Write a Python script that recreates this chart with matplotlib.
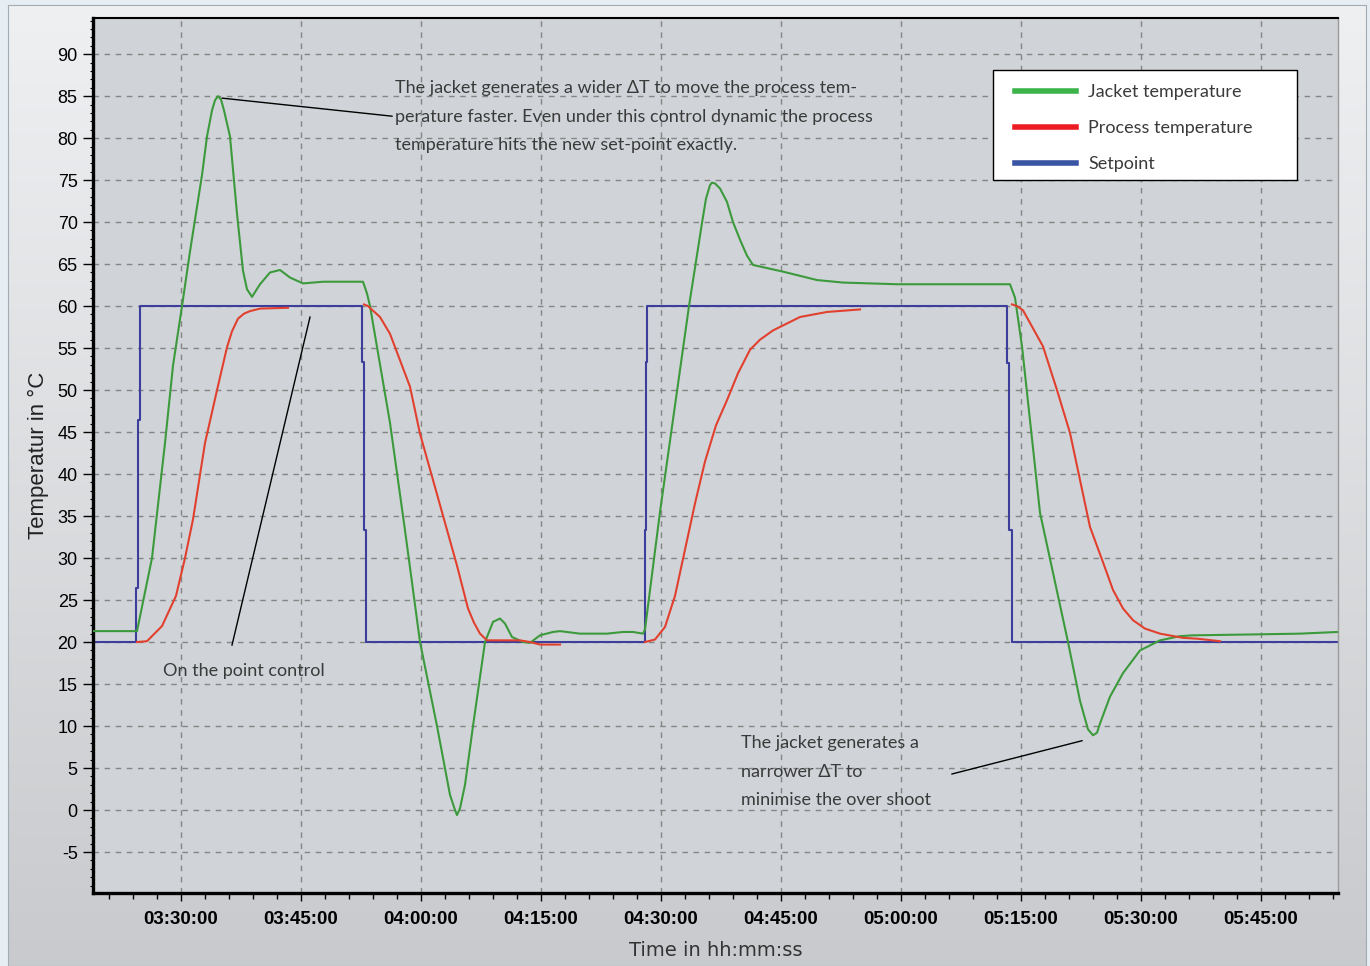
import numpy as np
import matplotlib
matplotlib.use('Agg')
import matplotlib.pyplot as plt
from matplotlib.ticker import MultipleLocator, FuncFormatter
from matplotlib.lines import Line2D
from matplotlib.patches import Rectangle
from matplotlib.colors import LinearSegmentedColormap

plt.rcParams['axes.unicode_minus'] = False

# times are minutes after midnight
jacket_time = [199.0, 204.5, 206.375, 208.0, 209.0, 210.125, 211.125, 212.625, 213.25, 213.875,
               214.25, 214.625, 215.0, 215.375, 216.125, 217.0, 217.75, 218.25, 218.875, 219.875,
               221.125, 222.375, 223.625, 225.25, 227.75, 232.75, 233.25, 233.625, 236.125, 238.0,
               239.875, 242.0, 243.625, 244.25, 244.5, 244.875, 245.5, 246.5, 248.0, 249.0,
               249.875, 250.5, 251.375, 252.75, 253.625, 254.875, 256.5, 257.375, 259.875, 263.25,
               265.25, 266.5, 267.75, 268.0, 269.875, 273.5, 275.125, 275.625, 276.125, 276.375,
               276.75, 277.375, 278.25, 279.0, 279.875, 280.75, 281.5, 285.25, 289.5, 292.75,
               299.5, 313.625, 314.25, 315.125, 317.375, 320.875, 322.375, 323.375, 324.0, 324.5,
               324.875, 326.125, 327.75, 329.875, 332.375, 334.875, 336.5, 343.625, 349.875, 354.625]
jacket_temp = [21.3, 21.3, 30.0, 43.7, 52.9, 60.0, 66.5, 75.6, 80.2, 83.3,
               84.5, 85.0, 84.6, 83.3, 80.2, 71.0, 64.2, 62.0, 61.1, 62.6,
               64.0, 64.3, 63.4, 62.7, 62.9, 62.9, 61.5, 60.0, 46.1, 33.3,
               20.0, 10.0, 1.8, 0.0, -0.6, 0.2, 3.0, 10.0, 20.0, 22.4,
               22.8, 22.2, 20.6, 20.0, 19.9, 20.8, 21.2, 21.3, 21.0, 21.0,
               21.2, 21.2, 21.0, 21.5, 35.5, 60.0, 69.9, 72.8, 74.4, 74.7,
               74.6, 74.0, 72.4, 70.0, 67.9, 66.0, 64.9, 64.1, 63.1, 62.8,
               62.6, 62.6, 61.0, 55.2, 35.4, 20.0, 13.0, 9.6, 8.9, 9.2,
               10.3, 13.5, 16.3, 19.0, 20.2, 20.7, 20.8, 20.9, 21.0, 21.2]

# process temperature is logged in pieces, nan marks the gaps
process_time = [204.5, 205.75, 207.625, 209.375, 210.5, 211.5, 213.0, 214.625, 215.75, 216.375,
                217.125, 217.875, 218.625, 219.875, 223.375, np.nan,
                232.875, 233.375, 234.875, 236.125, 238.625, 239.875, 242.0, 244.5, 245.875, 246.625,
                247.375, 248.25, 252.375, 253.625, 254.875, 257.375, np.nan,
                268.0, 269.25, 270.5, 271.75, 273.0, 274.25, 275.5, 276.875, 278.25, 279.625,
                281.125, 282.375, 284.0, 287.375, 290.75, 294.875, np.nan,
                313.875, 314.5, 315.25, 317.75, 319.5, 321.125, 322.375, 323.625, 325.25, 326.5,
                327.75, 329.0, 330.5, 332.375, 335.25, 337.0, 339.875]
process_temp = [20.0, 20.1, 21.9, 25.5, 30.0, 34.6, 43.7, 50.5, 55.1, 57.0,
                58.5, 59.1, 59.4, 59.7, 59.8, np.nan,
                60.2, 60.0, 58.7, 56.7, 50.4, 44.8, 37.6, 29.1, 24.0, 22.3,
                21.0, 20.2, 20.2, 20.0, 19.7, 19.7, np.nan,
                20.0, 20.3, 21.8, 25.5, 31.0, 36.5, 41.5, 45.8, 48.8, 52.0,
                54.8, 56.0, 57.1, 58.7, 59.3, 59.6, np.nan,
                60.2, 60.0, 59.5, 55.2, 50.0, 44.9, 39.3, 33.7, 29.5, 26.2,
                24.0, 22.6, 21.6, 21.0, 20.5, 20.4, 20.1]

setpoint_time = [199.0, 204.375, 204.375, 204.625, 204.625, 204.875, 204.875,
                 232.625, 232.625, 232.875, 232.875, 233.125, 233.125,
                 268.0, 268.0, 268.125, 268.125, 268.25, 268.25,
                 313.25, 313.25, 313.5, 313.5, 313.875, 313.875, 354.625]
setpoint_temp = [20, 20, 26.4, 26.4, 46.4, 46.4, 60,
                 60, 53.3, 53.3, 33.3, 33.3, 20,
                 20, 33.3, 33.3, 53.3, 53.3, 60,
                 60, 53.2, 53.2, 33.3, 33.3, 20, 20]

labels = ['Jacket temperature', 'Process temperature', 'Setpoint']

note_font = ['Lato', 'DejaVu Sans']
note_col = '#3a3a3a'

fig = plt.figure(figsize=(13.7, 9.66), dpi=100)
fig.patch.set_facecolor('#e6edf3')

# grey gradient panel behind the chart
bg = fig.add_axes([8/1370, 0, 1358/1370, 1 - 5/966])
grad = np.linspace(0, 1, 256)[:, None]
bg.imshow(grad, aspect='auto', extent=[0, 1, 0, 1],
          cmap=LinearSegmentedColormap.from_list('bg', ['#eef0f2', '#c8cacd']))
bg.set_xticks([])
bg.set_yticks([])
for s in bg.spines.values():
    s.set_color('#a3abb3')

ax = fig.add_axes([93/1370, 1 - 893/966, 1245/1370, 875/966])
ax.set_facecolor('#d0d4d8')

ax.plot(jacket_time, jacket_temp, color='#3c9a3c', lw=1.5, zorder=3)
ax.plot(process_time, process_temp, color='#e2402f', lw=1.5, zorder=4)
ax.plot(setpoint_time, setpoint_temp, color='#3d3d9c', lw=1.5, zorder=2)

ax.set_xlim(199.0, 354.625)
ax.set_ylim(-9.88, 94.3)

ax.xaxis.set_major_locator(MultipleLocator(15))
ax.xaxis.set_minor_locator(MultipleLocator(3))
ax.yaxis.set_minor_locator(MultipleLocator(1))
ax.set_yticks(np.arange(-5, 91, 5))

def hms(m, pos):
    s = int(round(m * 60))
    return '%02d:%02d:%02d' % (s // 3600, (s // 60) % 60, s % 60)

ax.xaxis.set_major_formatter(FuncFormatter(hms))

ax.grid(True, which='major', color='#858585', linestyle=(0, (4, 4)), lw=1)
ax.set_axisbelow(True)

ax.tick_params(axis='x', which='major', length=6, width=1, pad=7, labelsize=13.5)
ax.tick_params(axis='x', which='minor', length=4, width=1)
ax.tick_params(axis='y', which='major', length=7, width=1, pad=4, labelsize=13)
ax.tick_params(axis='y', which='minor', length=2, width=0.8)
for t in ax.get_xticklabels():
    t.set_fontweight('bold')
    t.set_family('Liberation Sans')
for t in ax.get_yticklabels():
    t.set_family('Liberation Sans')

ax.spines['left'].set_linewidth(2.4)
ax.spines['bottom'].set_linewidth(2.4)
ax.spines['top'].set_linewidth(1.5)
ax.spines['right'].set_linewidth(1)
ax.spines['right'].set_color('#9a9a9a')

ax.set_ylabel('Temperatur in °C', fontsize=16, family='Liberation Sans', color='#222222', labelpad=6)
ax.set_xlabel('Time in hh:mm:ss', fontsize=14, color='#333333', labelpad=9)

# notes
ax.annotate('The jacket generates a wider ΔT to move the process tem-\n'
            'perature faster. Even under this control dynamic the process\n'
            'temperature hits the new set-point exactly.',
            xy=(215.125, 84.76), xytext=(236.75, 86.9),
            ha='left', va='top', fontsize=13, family=note_font, color=note_col, linespacing=1.95,
            arrowprops=dict(arrowstyle='-', color='black', lw=1, shrinkA=0, shrinkB=0,
                            relpos=(0, 0.5)))
ax.plot([216.375, 226.125], [19.64, 58.69], color='black', lw=1, zorder=5)
ax.text(207.75, 16.6, 'On the point control', ha='left', va='center',
        fontsize=13, family=note_font, color=note_col)
ax.text(280.0, 8.9, 'The jacket generates a\nnarrower ΔT to\nminimise the over shoot',
        ha='left', va='top', fontsize=13, family=note_font, color=note_col, linespacing=1.95)
ax.plot([306.375, 322.625], [4.29, 8.25], color='black', lw=1, zorder=5)

# legend: own frame so the keys can sit where they do in the original
ax.add_patch(Rectangle((0.7229, 0.8149), 0.2442, 0.1257, transform=ax.transAxes,
                       facecolor='white', edgecolor='black', lw=1, zorder=6))
handles = [Line2D([], [], color='#3cb44a', lw=4),
           Line2D([], [], color='#ed1c24', lw=4),
           Line2D([], [], color='#3a54a4', lw=4)]
leg = ax.legend(handles, labels, loc='upper left', bbox_to_anchor=(0.7406, 0.9240),
                borderaxespad=0, borderpad=0, frameon=False,
                prop={'family': note_font, 'size': 13}, handlelength=3.4, handletextpad=0.65,
                labelspacing=1.1)
leg.set_zorder(7)
for t in leg.get_texts():
    t.set_color(note_col)

fig.savefig('out.png', dpi=100, facecolor=fig.get_facecolor())
